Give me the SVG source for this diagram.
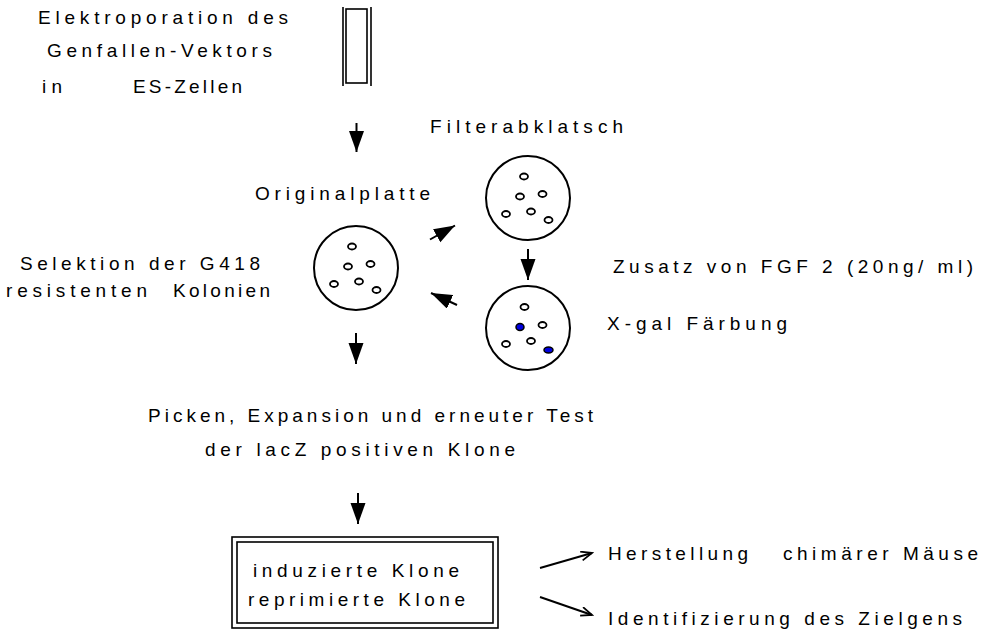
<svg xmlns="http://www.w3.org/2000/svg" width="989" height="635" viewBox="0 0 989 635">
<style>
text{font-family:"Liberation Sans",Arial,sans-serif;font-size:19px;fill:#000}
.ln{stroke:#000;stroke-width:2;fill:none}
.plate{fill:#fff;stroke:#000;stroke-width:2}
.dot{fill:#fff;stroke:#000;stroke-width:1.8}
.blue{fill:#0000e0;stroke:#000;stroke-width:1.5}
.thin{fill:none;stroke:#000;stroke-width:1.6}
</style>
<defs>
<marker id="fa" markerUnits="userSpaceOnUse" markerWidth="22" markerHeight="16" refX="21" refY="7.5" orient="auto">
<path d="M0,0 L21,7.5 L0,15 z" fill="#000"/>
</marker>
<marker id="oa" markerUnits="userSpaceOnUse" markerWidth="14" markerHeight="12" refX="12" refY="5" orient="auto">
<path d="M1,0.5 L12,5 L1,9.5" fill="none" stroke="#000" stroke-width="1.8"/>
</marker>
</defs>

<g id="vektor">
<text x="38" y="24" textLength="250" lengthAdjust="spacing">Elektroporation des</text>
<text x="47" y="57" textLength="225" lengthAdjust="spacing">Genfallen-Vektors</text>
<text x="42" y="93" textLength="20" lengthAdjust="spacing">in</text>
<text x="133" y="93" textLength="109" lengthAdjust="spacing">ES-Zellen</text>
<line x1="343" y1="7" x2="343" y2="86" class="thin"/>
<line x1="371" y1="7" x2="371" y2="86" class="thin"/>
<rect x="346" y="9" width="21" height="74" class="thin"/>
</g>

<g id="originalplatte">
<text x="255" y="200" textLength="175" lengthAdjust="spacing">Originalplatte</text>
<circle cx="356" cy="268" r="42" class="plate"/>
<g class="dot" transform="translate(356,268)">
<ellipse cx="-4" cy="-21.5" rx="4" ry="3"/>
<ellipse cx="-8" cy="-1.5" rx="4" ry="3"/>
<ellipse cx="14.5" cy="-4" rx="4" ry="3"/>
<ellipse cx="-22" cy="16" rx="4" ry="3"/>
<ellipse cx="3" cy="13.5" rx="4" ry="3"/>
<ellipse cx="20.5" cy="22" rx="4" ry="3"/>
</g>
</g>

<g id="selektion">
<text x="20" y="270" textLength="240" lengthAdjust="spacing">Selektion der G418</text>
<text x="6" y="297" textLength="141" lengthAdjust="spacing">resistenten</text>
<text x="173" y="297" textLength="97" lengthAdjust="spacing">Kolonien</text>
</g>

<g id="filterabklatsch">
<text x="430" y="133" textLength="193" lengthAdjust="spacing">Filterabklatsch</text>
<circle cx="528" cy="198" r="42" class="plate"/>
<g class="dot" transform="translate(528,198)">
<ellipse cx="-4" cy="-21.5" rx="4" ry="3"/>
<ellipse cx="-8" cy="-1.5" rx="4" ry="3"/>
<ellipse cx="14.5" cy="-4" rx="4" ry="3"/>
<ellipse cx="-22" cy="16" rx="4" ry="3"/>
<ellipse cx="3" cy="13.5" rx="4" ry="3"/>
<ellipse cx="20.5" cy="22" rx="4" ry="3"/>
</g>
</g>

<g id="fgf">
<text x="613" y="273" textLength="360" lengthAdjust="spacing">Zusatz von FGF 2 (20ng/ ml)</text>
</g>

<g id="xgal">
<circle cx="528" cy="328" r="42" class="plate"/>
<g transform="translate(528,328)">
<ellipse cx="-3.5" cy="-21" rx="4" ry="3" class="dot"/>
<ellipse cx="-8" cy="-1" rx="4" ry="3.5" class="blue"/>
<ellipse cx="14.5" cy="-3" rx="4" ry="3" class="dot"/>
<ellipse cx="-22" cy="16" rx="4" ry="3" class="dot"/>
<ellipse cx="3" cy="13" rx="4" ry="3" class="dot"/>
<ellipse cx="20.5" cy="22" rx="4.5" ry="3" class="blue"/>
</g>
<text x="607" y="330" textLength="180" lengthAdjust="spacing">X-gal Färbung</text>
</g>

<g id="picken">
<text x="148" y="422" textLength="445" lengthAdjust="spacing">Picken, Expansion und erneuter Test</text>
<text x="205" y="456" textLength="310" lengthAdjust="spacing">der lacZ positiven Klone</text>
</g>

<g id="klone">
<rect x="232" y="537" width="266" height="91" class="thin"/>
<rect x="237" y="542" width="256" height="81" class="thin"/>
<text x="253" y="577" textLength="206" lengthAdjust="spacing">induzierte Klone</text>
<text x="248" y="606" textLength="217" lengthAdjust="spacing">reprimierte Klone</text>
</g>

<g id="maeuse">
<text x="608" y="560" textLength="140" lengthAdjust="spacing">Herstellung</text>
<text x="783" y="560" textLength="195" lengthAdjust="spacing">chimärer Mäuse</text>
</g>

<g id="zielgen">
<text x="608" y="625" textLength="354" lengthAdjust="spacing">Identifizierung des Zielgens</text>
</g>

<g id="connectors">
<line x1="356.5" y1="123" x2="356.5" y2="152" class="ln" marker-end="url(#fa)"/>
<line x1="430" y1="239.5" x2="455" y2="225.5" class="ln" marker-end="url(#fa)"/>
<line x1="528" y1="249" x2="528" y2="280" class="ln" marker-end="url(#fa)"/>
<line x1="457" y1="305" x2="431" y2="293" class="ln" marker-end="url(#fa)"/>
<line x1="356" y1="333" x2="356" y2="364" class="ln" marker-end="url(#fa)"/>
<line x1="358" y1="493" x2="358" y2="524" class="ln" marker-end="url(#fa)"/>
<line x1="540" y1="568" x2="592" y2="553" class="ln" marker-end="url(#oa)"/>
<line x1="540" y1="597" x2="592" y2="615" class="ln" marker-end="url(#oa)"/>
</g>
</svg>
